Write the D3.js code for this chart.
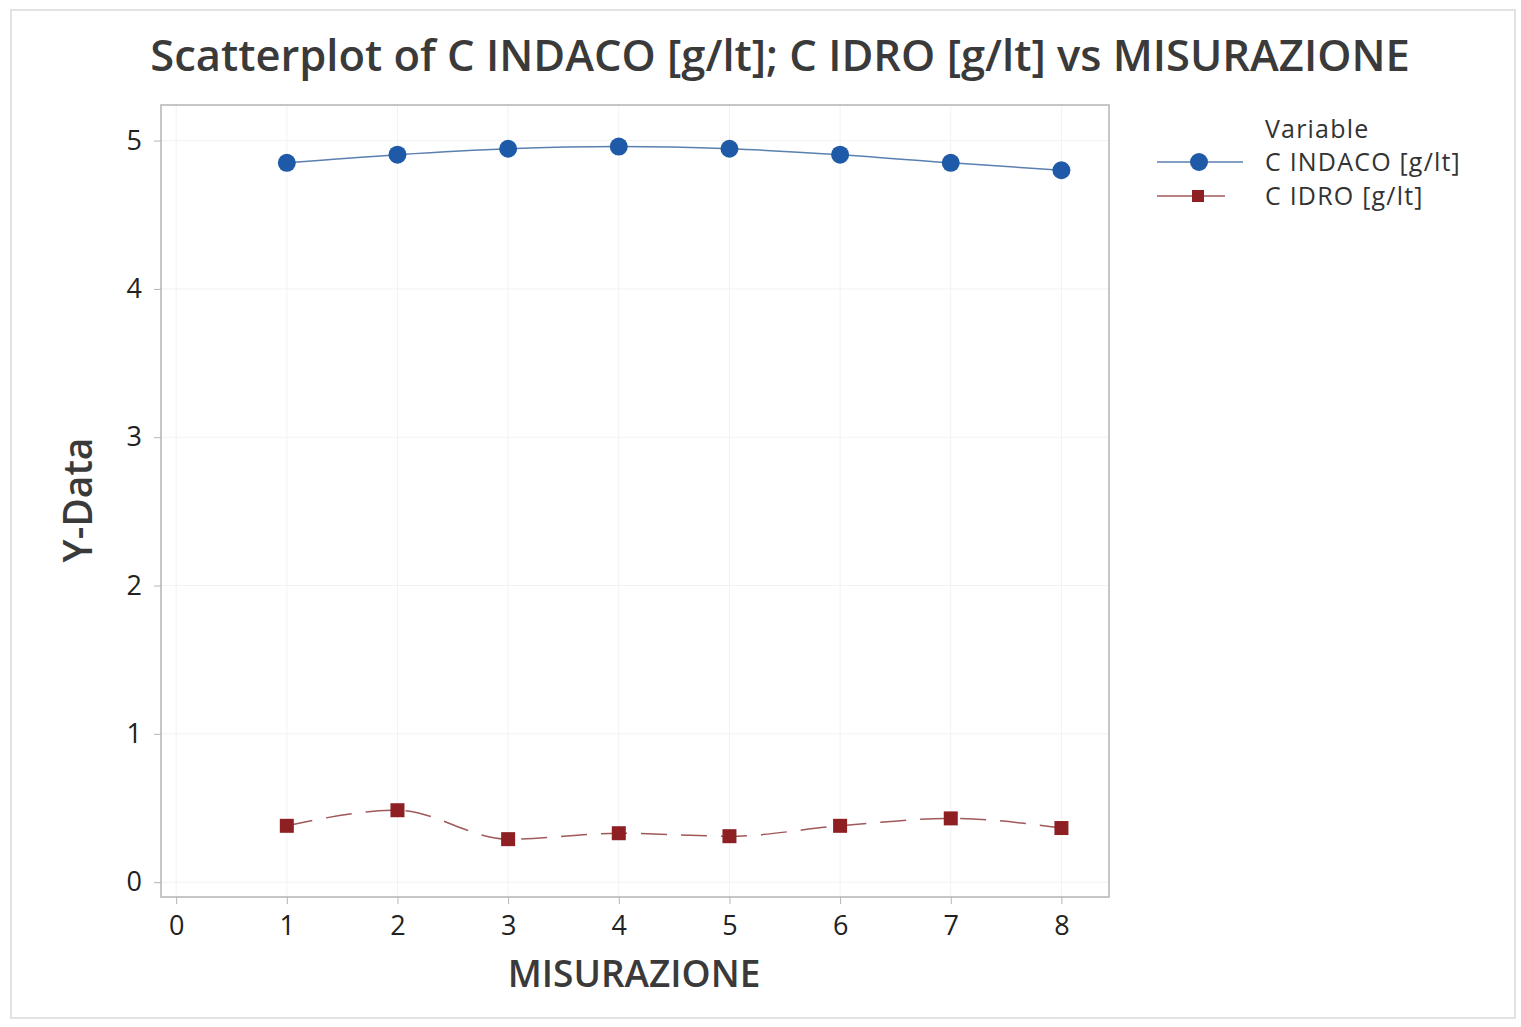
<!DOCTYPE html>
<html>
<head>
<meta charset="utf-8">
<script src="https://cdn.jsdelivr.net/npm/d3@7"></script>
<style>
  body { margin: 0; background: #fff; }
  text { font-family: "Open Sans", sans-serif; fill: #333; }
</style>
</head>
<body>
<div id="chart"></div>
<script>
var misurazione = [1, 2, 3, 4, 5, 6, 7, 8]
var cIndaco = [4.85, 4.905, 4.945, 4.96, 4.945, 4.905, 4.85, 4.80]
var cIdro = [0.38, 0.485, 0.29, 0.33, 0.31, 0.38, 0.43, 0.365]
var xTicks = [0, 1, 2, 3, 4, 5, 6, 7, 8]
var yTicks = [0, 1, 2, 3, 4, 5]
var seriesNames = ["C INDACO [g/lt]", "C IDRO [g/lt]"]

var width = 1521, height = 1027
var plot = { left: 161, top: 105, right: 1109, bottom: 897 }

var svg = d3.select("#chart").append("svg")
  .attr("width", width)
  .attr("height", height)

// outer frame
svg.append("rect")
  .attr("x", 11).attr("y", 10)
  .attr("width", 1504).attr("height", 1008)
  .attr("fill", "#fff")
  .attr("stroke", "#e2e2e2")
  .attr("stroke-width", 2)

var x = d3.scaleLinear().domain([-0.137, 8.43]).range([plot.left, plot.right])
var y = d3.scaleLinear().domain([-0.1, 5.24]).range([plot.bottom, plot.top])

// gridlines
svg.append("g").selectAll("line.vg")
  .data(xTicks).enter().append("line")
  .attr("x1", function(d) { return x(d) }).attr("x2", function(d) { return x(d) })
  .attr("y1", plot.top).attr("y2", plot.bottom)
  .attr("stroke", "#f2f2f2").attr("stroke-width", 1)

svg.append("g").selectAll("line.hg")
  .data(yTicks).enter().append("line")
  .attr("y1", function(d) { return y(d) }).attr("y2", function(d) { return y(d) })
  .attr("x1", plot.left).attr("x2", plot.right)
  .attr("stroke", "#f2f2f2").attr("stroke-width", 1)

// plot frame
svg.append("rect")
  .attr("x", plot.left).attr("y", plot.top)
  .attr("width", plot.right - plot.left).attr("height", plot.bottom - plot.top)
  .attr("fill", "none")
  .attr("stroke", "#b4b4b4")
  .attr("stroke-width", 1.5)

// axes
var xAxis = svg.append("g")
  .attr("transform", "translate(0," + plot.bottom + ")")
  .call(d3.axisBottom(x).tickValues(xTicks).tickSize(7).tickPadding(12).tickFormat(d3.format("d")))
xAxis.select(".domain").remove()
xAxis.selectAll(".tick line").attr("stroke", "#b4b4b4")
xAxis.selectAll(".tick text").style("font-size", "27px").style("fill", "#222")

var yAxis = svg.append("g")
  .attr("transform", "translate(" + plot.left + ",0)")
  .call(d3.axisLeft(y).tickValues(yTicks).tickSize(7).tickPadding(12).tickFormat(d3.format("d")))
yAxis.select(".domain").remove()
yAxis.selectAll(".tick line").attr("stroke", "#b4b4b4")
yAxis.selectAll(".tick text").style("font-size", "27px").style("fill", "#222")

// titles
svg.append("text")
  .attr("x", 780).attr("y", 71)
  .attr("text-anchor", "middle")
  .style("font-size", "43.5px")
  .style("font-weight", 600)
  .style("fill", "#3a3a3a")
  .text("Scatterplot of C INDACO [g/lt]; C IDRO [g/lt] vs MISURAZIONE")

svg.append("text")
  .attr("x", 634).attr("y", 987)
  .attr("text-anchor", "middle")
  .style("font-size", "37px")
  .style("font-weight", 600)
  .style("fill", "#3a3a3a")
  .text("MISURAZIONE")

svg.append("text")
  .attr("transform", "translate(92,500) rotate(-90)")
  .attr("text-anchor", "middle")
  .style("font-size", "39px")
  .style("font-weight", 600)
  .style("fill", "#3a3a3a")
  .text("Y-Data")

var blue = "#1f5aa8", red = "#8e1f23"

var lineGen = d3.line()
  .x(function(d) { return x(d[0]) })
  .y(function(d) { return y(d[1]) })
  .curve(d3.curveMonotoneX)

var indacoPts = misurazione.map(function(m, i) { return [m, cIndaco[i]] })
var idroPts = misurazione.map(function(m, i) { return [m, cIdro[i]] })

svg.append("path")
  .attr("d", lineGen(indacoPts))
  .attr("fill", "none")
  .attr("stroke", "#5a7fb0")
  .attr("stroke-width", 1.5)

svg.append("path")
  .attr("d", lineGen(idroPts))
  .attr("fill", "none")
  .attr("stroke", "#a0585a")
  .attr("stroke-width", 1.5)
  .attr("stroke-dasharray", "26,14")

svg.append("g").selectAll("circle")
  .data(indacoPts).enter().append("circle")
  .attr("cx", function(d) { return x(d[0]) })
  .attr("cy", function(d) { return y(d[1]) })
  .attr("r", 9)
  .attr("fill", blue)

svg.append("g").selectAll("rect")
  .data(idroPts).enter().append("rect")
  .attr("x", function(d) { return x(d[0]) - 7 })
  .attr("y", function(d) { return y(d[1]) - 7 })
  .attr("width", 14).attr("height", 14)
  .attr("fill", red)

// legend (tight rows, as in the original)
var legend = svg.append("g").attr("transform", "translate(1155,0)")
legend.append("text")
  .attr("x", 110).attr("y", 138)
  .style("font-size", "25px")
  .style("letter-spacing", "1.2px")
  .text("Variable")

var legRows = [
  { name: seriesNames[0], y: 162, color: blue, line: "#5a7fb0", shape: "circle", x2: 88 },
  { name: seriesNames[1], y: 196, color: red, line: "#a0585a", shape: "square", x2: 70 }
]
legRows.forEach(function(r) {
  legend.append("line")
    .attr("x1", 2).attr("x2", r.x2)
    .attr("y1", r.y).attr("y2", r.y)
    .attr("stroke", r.line).attr("stroke-width", 1.5)
  if (r.shape == "circle") {
    legend.append("circle").attr("cx", 44).attr("cy", r.y).attr("r", 9).attr("fill", r.color)
  } else {
    legend.append("rect").attr("x", 37).attr("y", r.y - 6).attr("width", 12).attr("height", 12).attr("fill", r.color)
  }
  legend.append("text")
    .attr("x", 110).attr("y", r.y + 9)
    .style("font-size", "25px")
    .style("letter-spacing", "1.2px")
    .text(r.name)
})
</script>
</body>
</html>
